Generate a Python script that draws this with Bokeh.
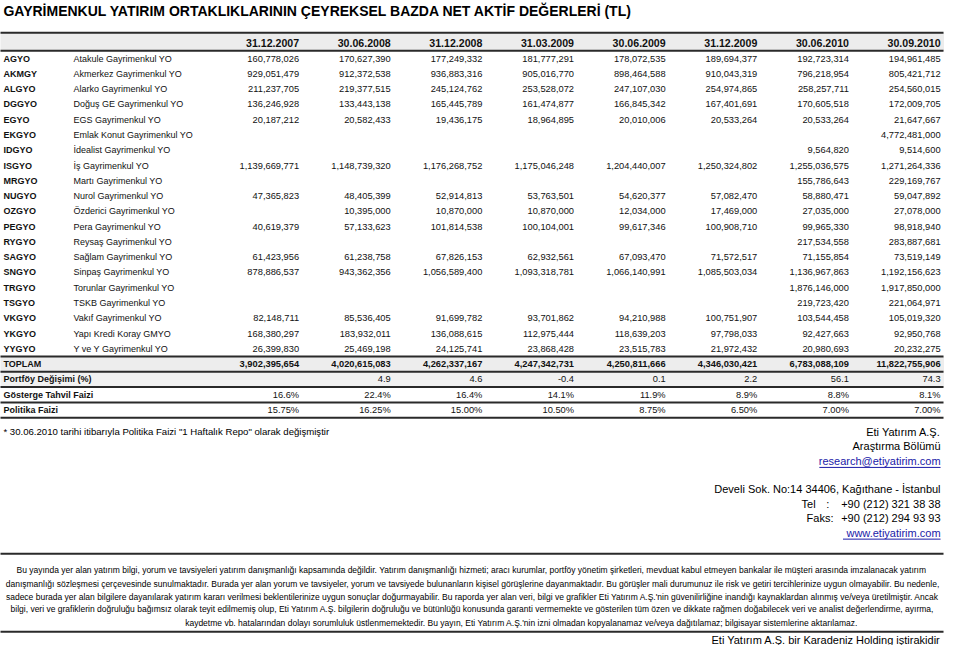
from bokeh.plotting import figure
from bokeh.models import Range1d, ColumnDataSource
from bokeh.core.properties import value
from bokeh.embed import file_html
from bokeh.resources import INLINE

# ---------------- data ----------------
title = "GAYRİMENKUL YATIRIM ORTAKLIKLARININ ÇEYREKSEL BAZDA NET AKTİF DEĞERLERİ (TL)"
dates = ["31.12.2007", "30.06.2008", "31.12.2008", "31.03.2009",
         "30.06.2009", "31.12.2009", "30.06.2010", "30.09.2010"]
codes = ["AGYO", "AKMGY", "ALGYO", "DGGYO", "EGYO", "EKGYO", "IDGYO", "ISGYO",
         "MRGYO", "NUGYO", "OZGYO", "PEGYO", "RYGYO", "SAGYO", "SNGYO", "TRGYO",
         "TSGYO", "VKGYO", "YKGYO", "YYGYO"]
names = ["Atakule Gayrimenkul YO", "Akmerkez Gayrimenkul YO", "Alarko Gayrimenkul YO",
         "Doğuş GE Gayrimenkul YO", "EGS Gayrimenkul YO", "Emlak Konut Gayrimenkul YO",
         "İdealist Gayrimenkul YO", "İş Gayrimenkul YO", "Martı Gayrimenkul YO",
         "Nurol Gayrimenkul YO", "Özderici Gayrimenkul YO", "Pera Gayrimenkul YO",
         "Reysaş Gayrimenkul YO", "Sağlam Gayrimenkul YO", "Sinpaş Gayrimenkul YO",
         "Torunlar Gayrimenkul YO", "TSKB Gayrimenkul YO", "Vakıf Gayrimenkul YO",
         "Yapı Kredi Koray GMYO", "Y ve Y Gayrimenkul YO"]
v_2007_12 = [160778026, 929051479, 211237705, 136246928, 20187212, None, None, 1139669771,
             None, 47365823, None, 40619379, None, 61423956, 878886537, None,
             None, 82148711, 168380297, 26399830]
v_2008_06 = [170627390, 912372538, 219377515, 133443138, 20582433, None, None, 1148739320,
             None, 48405399, 10395000, 57133623, None, 61238758, 943362356, None,
             None, 85536405, 183932011, 25469198]
v_2008_12 = [177249332, 936883316, 245124762, 165445789, 19436175, None, None, 1176268752,
             None, 52914813, 10870000, 101814538, None, 67826153, 1056589400, None,
             None, 91699782, 136088615, 24125741]
v_2009_03 = [181777291, 905016770, 253528072, 161474877, 18964895, None, None, 1175046248,
             None, 53763501, 10870000, 100104001, None, 62932561, 1093318781, None,
             None, 93701862, 112975444, 23868428]
v_2009_06 = [178072535, 898464588, 247107030, 166845342, 20010006, None, None, 1204440007,
             None, 54620377, 12034000, 99617346, None, 67093470, 1066140991, None,
             None, 94210988, 118639203, 23515783]
v_2009_12 = [189694377, 910043319, 254974865, 167401691, 20533264, None, None, 1250324802,
             None, 57082470, 17469000, 100908710, None, 71572517, 1085503034, None,
             None, 100751907, 97798033, 21972432]
v_2010_06 = [192723314, 796218954, 258257711, 170605518, 20533264, None, 9564820, 1255036575,
             155786643, 58880471, 27035000, 99965330, 217534558, 71155854, 1136967863, 1876146000,
             219723420, 103544458, 92427663, 20980693]
v_2010_09 = [194961485, 805421712, 254560015, 172009705, 21647667, 4772481000, 9514600, 1271264336,
             229169767, 59047892, 27078000, 98918940, 283887681, 73519149, 1192156623, 1917850000,
             221064971, 105019320, 92950768, 20232275]
toplam = [3902395654, 4020615083, 4262337167, 4247342731,
          4250811666, 4346030421, 6783088109, 11822755906]
portfoy_degisimi = [None, 4.9, 4.6, -0.4, 0.1, 2.2, 56.1, 74.3]
gosterge_tahvil = [16.6, 22.4, 16.4, 14.1, 11.9, 8.9, 8.8, 8.1]
politika_faizi = [15.75, 16.25, 15.00, 10.50, 8.75, 6.50, 7.00, 7.00]

footnote = '* 30.06.2010 tarihi itibarıyla Politika Faizi "1 Haftalık Repo" olarak değişmiştir'
contact = ["Eti Yatırım A.Ş.", "Araştırma Bölümü", "research@etiyatirim.com",
           "Develi Sok. No:14 34406, Kağıthane - İstanbul"]
tel = "+90 (212) 321 38 38"
faks = "+90 (212) 294 93 93"
web = "www.etiyatirim.com"
disclaimer = [
    "Bu yayında  yer alan yatırım bilgi, yorum ve tavsiyeleri yatırım danışmanlığı kapsamında değildir. Yatırım danışmanlığı hizmeti; aracı kurumlar, portföy yönetim şirketleri, mevduat kabul etmeyen bankalar ile müşteri arasında imzalanacak yatırım",
    "danışmanlığı sözleşmesi çerçevesinde sunulmaktadır. Burada yer alan yorum ve tavsiyeler, yorum ve tavsiyede bulunanların kişisel görüşlerine dayanmaktadır. Bu görüşler mali durumunuz ile risk ve getiri tercihlerinize uygun olmayabilir. Bu nedenle,",
    "sadece burada yer alan bilgilere dayanılarak yatırım kararı verilmesi beklentilerinize uygun sonuçlar doğurmayabilir. Bu raporda yer alan veri, bilgi ve grafikler Eti Yatırım A.Ş.'nin güvenilirliğine inandığı kaynaklardan alınmış ve/veya üretilmiştir. Ancak",
    "bilgi, veri ve grafiklerin doğruluğu bağımsız olarak teyit edilmemiş olup,  Eti Yatırım A.Ş. bilgilerin doğruluğu ve bütünlüğü konusunda garanti vermemekte ve gösterilen tüm özen ve dikkate rağmen doğabilecek veri ve analist değerlendirme, ayırma,",
    "kaydetme vb. hatalarından dolayı sorumluluk üstlenmemektedir. Bu yayın, Eti Yatırım A.Ş.'nin izni olmadan kopyalanamaz ve/veya dağıtılamaz;  bilgisayar sistemlerine aktarılamaz.",
]
footer = "Eti Yatırım A.Ş. bir Karadeniz Holding iştirakidir"

# ---------------- layout ----------------
FONT = value("Liberation Sans")
W, H = 944, 645
row_y0, row_h = 59.5, 15.66
col_r0, col_w = 304.0, 93.0
x_code, x_name = 4, 75
header_y = 43.5
right_x = 955

p = figure(width=W, height=H, x_range=Range1d(1, 959), y_range=Range1d(661, 0),
           output_backend="svg", toolbar_location=None,
           x_axis_type=None, y_axis_type=None, min_border=0)
p.grid.visible = False
p.outline_line_color = None
p.background_fill_color = "white"
p.border_fill_color = "white"

columns = [v_2007_12, v_2008_06, v_2008_12, v_2009_03, v_2009_06, v_2009_12, v_2010_06, v_2010_09]
col_x = [col_r0 + j * col_w for j in range(len(dates))]
n = len(codes)
y_tot = row_y0 + n * row_h
y_port = y_tot + row_h
y_gost = y_port + row_h
y_pol = y_gost + row_h

# bands
p.quad(left=[0, 0, 0], right=[960, 960, 960],
       top=[33, y_tot - row_h / 2, y_port - row_h / 2],
       bottom=[header_y + 8, y_tot + row_h / 2, y_port + row_h / 2],
       fill_color=["#ececec", "#ededed", "#f1f1f1"], line_color=None)

# rules
rule_y = [33, header_y + 8, y_tot - row_h / 2, y_tot + row_h / 2,
          y_port + row_h / 2, y_gost + row_h / 2, y_pol + row_h / 2, 567, 647]
p.segment(x0=[0] * len(rule_y), x1=[958] * len(rule_y), y0=rule_y, y1=rule_y,
          line_color="#2a2a2a", line_width=2)

def txt(x, y, t, size, align="left", bold=False, color="#111111"):
    src = ColumnDataSource(dict(x=x, y=y, t=t))
    p.text(x="x", y="y", text="t", source=src, text_font=FONT,
           text_font_size=value(size), text_align=align, text_baseline="middle",
           text_font_style="bold" if bold else "normal", text_color=color)

# title
txt([4], [11], [title], "14px", bold=True, color="#000000")
# header
txt(col_x, [header_y] * len(dates), dates, "10.6px", align="right", bold=True)

# company rows
row_y = [row_y0 + i * row_h for i in range(n)]
txt([x_code] * n, row_y, codes, "9px", bold=True)
txt([x_name] * n, row_y, names, "9px")
nx, ny, nt = [], [], []
for j, col in enumerate(columns):
    for i, v in enumerate(col):
        if v is not None:
            nx.append(col_x[j]); ny.append(row_y[i]); nt.append(f"{v:,}")
txt(nx, ny, nt, "9.3px", align="right")

# summary rows
txt([x_code], [y_tot], ["TOPLAM"], "9px", bold=True)
txt(col_x, [y_tot] * len(toplam), [f"{v:,}" for v in toplam], "9.3px", align="right", bold=True)
txt([x_code, x_code, x_code], [y_port, y_gost, y_pol],
    ["Portföy Değişimi (%)", "Gösterge Tahvil Faizi", "Politika Faizi"], "9px", bold=True)
px_ = [col_x[j] for j, v in enumerate(portfoy_degisimi) if v is not None]
pt_ = [f"{v:.1f}" for v in portfoy_degisimi if v is not None]
txt(px_, [y_port] * len(px_), pt_, "9.3px", align="right")
txt(col_x, [y_gost] * len(col_x), [f"{v:.1f}%" for v in gosterge_tahvil], "9.3px", align="right")
txt(col_x, [y_pol] * len(col_x), [f"{v:.2f}%" for v in politika_faizi], "9.3px", align="right")

# footnote
txt([4], [442], [footnote], "9.6px", color="#000000")

# contact block
link = "#1a1aa8"
txt([right_x] * 2, [442, 457], contact[:2], "11px", align="right", color="#000000")
txt([right_x], [472], [contact[2]], "11px", align="right", color=link)
txt([right_x], [501], [contact[3]], "11px", align="right", color="#000000")
txt([814, 839], [516, 516], ["Tel", ":"], "11px", color="#000000")
txt([819], [530.5], ["Faks:"], "11px", color="#000000")
txt([right_x, right_x], [516, 530.5], [tel, faks], "11px", align="right", color="#000000")
txt([right_x], [545.5], [web], "11px", align="right", color=link)
p.segment(x0=[832, 856], x1=[955, 955], y0=[478.5, 552], y1=[478.5, 552],
          line_color=link, line_width=1)

# disclaimer
dis_x = [480, 480, 480, 481, 531]
dis_y = [584, 597.5, 611, 624, 637.5]
txt(dis_x, dis_y, disclaimer, "8.5px", align="center", color="#000000")

# footer
txt([right_x], [655], [footer], "11px", align="right", color="#000000")

open("out.html", "w").write(file_html(p, INLINE))
